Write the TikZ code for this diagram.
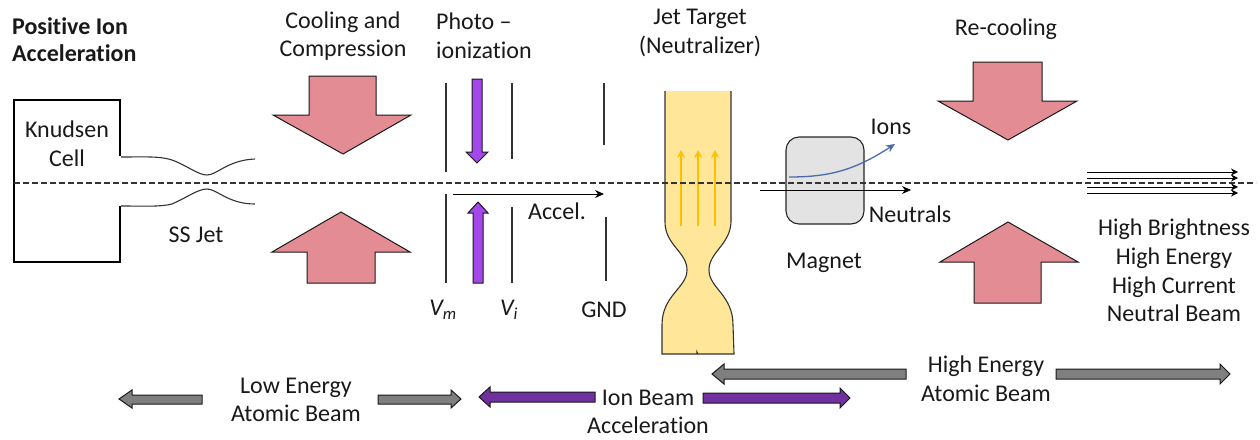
\documentclass[tikz,border=0pt]{standalone}
\usepackage{fontspec}
\setmainfont[Ligatures={NoCommon}]{Carlito}
\usetikzlibrary{arrows.meta}
\definecolor{pinkfill}{HTML}{E48C93}
\definecolor{purplefill}{HTML}{A447EA}
\definecolor{darkpurple}{HTML}{7030A0}
\definecolor{grayfill}{HTML}{7F7F7F}
\definecolor{jetfill}{HTML}{FFE699}
\definecolor{magfill}{HTML}{E3E3E3}
\definecolor{ionblue}{HTML}{4A6BA8}
\definecolor{arrowyellow}{HTML}{FFC000}
\tikzset{
 lbl/.style={font=\fontsize{24}{28.6}\selectfont,text=black!90,align=center,inner sep=0pt},
 wall/.style={draw=black,line width=2.4pt},
 electrode/.style={draw=black!80,line width=1.2pt},
 jetline/.style={draw=black!80,line width=1.1pt},
 bigarrow/.style={draw=black!90,line width=1pt,fill=pinkfill,line join=miter},
 uvarrow/.style={draw=black!90,line width=1pt,fill=purplefill},
 barpurple/.style={draw=black!90,line width=1pt,fill=darkpurple},
 bargray/.style={draw=black!90,line width=1pt,fill=grayfill},
 thinarrow/.style={draw=black,line width=1pt,-{Stealth[length=9pt,width=8pt]}},
 beamline/.style={draw=black,line width=1pt,-{Stealth[length=7pt,width=7pt]}},
 yellowarrow/.style={draw=arrowyellow,line width=1.1pt,-{Stealth[length=8pt,width=8pt]}}
}
\begin{document}
\begin{tikzpicture}[x=1pt,y=-1pt]
\useasboundingbox (0,0) rectangle (1260,439);
% knudsen
\draw[wall,line join=miter] (120,156) -- (120,100) -- (14,100) -- (14,262) -- (120,262) -- (120,206);
% ss jet
\draw[jetline] (121,157) .. controls (145,157) and (160,156) .. (172,160) .. controls (188,166) and (198,175) .. (207,175) .. controls (217,175) and (228,160) .. (255,159);
\draw[jetline] (121,206) .. controls (145,206) and (160,207) .. (172,204) .. controls (188,197) and (198,189) .. (207,189) .. controls (217,189) and (228,204) .. (255,204);
% big arrows
\draw[bigarrow] (309,76) -- (376,76) -- (376,115) -- (411,115) -- (343,154) -- (273,115) -- (309,115) -- cycle;
\draw[bigarrow] (307,283) -- (375,283) -- (375,252) -- (410,252) -- (341,212) -- (272,252) -- (307,252) -- cycle;
\draw[bigarrow] (973,62) -- (1042,62) -- (1042,101) -- (1077,101) -- (1008,140) -- (938,101) -- (973,101) -- cycle;
\draw[bigarrow] (974,303) -- (1041,303) -- (1041,262) -- (1078,262) -- (1008,222) -- (940,262) -- (974,262) -- cycle;
% electrodes
\draw[electrode] (446,83) -- (446,172) (446,194) -- (446,283);
\draw[electrode] (512,83) -- (512,159) (512,207) -- (512,283);
\draw[electrode] (604,83) -- (604,145) (606,217) -- (606,281);
% uv arrows
\draw[uvarrow] (472,79) -- (482,79) -- (482,152) -- (488,152) -- (477,163) -- (466,152) -- (472,152) -- cycle;
\draw[uvarrow] (473,283) -- (483,283) -- (483,213) -- (488,213) -- (478,202) -- (468,213) -- (473,213) -- cycle;
% jet
\path[fill=jetfill] (665,91) -- (731,91) -- (731,222) .. controls (730,245) and (709,252) .. (709,270) .. controls (709,288) and (733,295) .. (733,325) -- (734,354) -- (662,354) -- (662,325) .. controls (662,295) and (687,288) .. (687,270) .. controls (687,252) and (665,245) .. (665,222) -- cycle;
\draw[jetline] (665,91) -- (665,222) .. controls (665,245) and (687,252) .. (687,270) .. controls (687,288) and (662,295) .. (662,325) -- (662,354) -- (697,354) -- (697,352) -- (698,354) -- (734,354) -- (733,325) .. controls (733,295) and (709,288) .. (709,270) .. controls (709,252) and (730,245) .. (731,222) -- (731,91);
\draw[yellowarrow] (681,226) -- (681,150);
\draw[yellowarrow] (698,226) -- (698,150);
\draw[yellowarrow] (715,226) -- (715,150);
% magnet
\draw[fill=magfill,draw=black!85,line width=1.1pt,rounded corners=13pt] (786,137) rectangle (864,224);
\draw[draw=ionblue,line width=1.3pt,-{Stealth[length=9pt,width=8pt]}] (789,177) .. controls (830,177) and (855,170) .. (895,144);
% center line
\draw[draw=black!80,line width=1.2pt,dash pattern=on 5.5pt off 3.5pt] (14,183) -- (1256,183);
% thin arrows
\draw[thinarrow] (453,194) -- (604,194);
\draw[thinarrow] (760,190) -- (911,190);
\draw[beamline] (1087,172) -- (1238,172);
\draw[beamline] (1087,178) -- (1238,178);
\draw[beamline] (1087,187) -- (1238,187);
\draw[beamline] (1087,193) -- (1238,193);
% bottom arrows
\draw[bargray] (202,395) -- (132,395) -- (132,390) -- (119,399) -- (132,408) -- (132,404) -- (202,404) -- cycle;
\draw[bargray] (378,395) -- (451,395) -- (451,390) -- (461,399) -- (451,408) -- (451,404) -- (378,404) -- cycle;
\draw[barpurple] (595,392) -- (490,392) -- (490,387) -- (479,397) -- (490,407) -- (490,402) -- (595,402) -- cycle;
\draw[barpurple] (703,393) -- (840,393) -- (840,388) -- (850,398) -- (840,408) -- (840,403) -- (703,403) -- cycle;
\draw[bargray] (906,369) -- (724,369) -- (724,364) -- (712,374) -- (724,384) -- (724,379) -- (906,379) -- cycle;
\draw[bargray] (1056,369) -- (1220,369) -- (1220,364) -- (1230,374) -- (1220,384) -- (1220,379) -- (1056,379) -- cycle;
% labels
\node[lbl,font=\fontsize{24}{27.5}\selectfont\bfseries,align=left,anchor=west] (tPos) at (12,39.5) {Positive Ion\\Acceleration};
\node[lbl] (tCool) at (343,36) {Cooling and\\Compression};
\node[lbl,align=left,anchor=west] (tPhoto) at (436,36) {Photo –\\ionization};
\node[lbl] (tJet) at (700,33) {Jet Target\\(Neutralizer)};
\node[lbl] (tRe) at (1006,29) {Re-cooling};
\node[lbl] (tKn) at (67,143.5) {Knudsen\\Cell};
\node[lbl] (tSS) at (196,235) {SS Jet};
\node[lbl] (tVm) at (443,310) {\textit{V\textsubscript{m}}};
\node[lbl] (tVi) at (509,310) {\textit{V\textsubscript{i}}};
\node[lbl] (tGND) at (604,310) {GND};
\node[lbl] (tAcc) at (557,211) {Accel.};
\node[lbl] (tIons) at (891,127) {Ions};
\node[lbl] (tNeu) at (910,214) {Neutrals};
\node[lbl] (tMag) at (824,263) {Magnet};
\node[lbl] (tHB) at (1174,270.5) {High Brightness\\High Energy\\High Current\\Neutral Beam};
\node[lbl] (tLow) at (296,400) {Low Energy\\Atomic Beam};
\node[lbl] (tIon) at (648,412) {Ion Beam\\Acceleration};
\node[lbl] (tHigh) at (986,378.5) {High Energy\\Atomic Beam};
\end{tikzpicture}
\end{document}
